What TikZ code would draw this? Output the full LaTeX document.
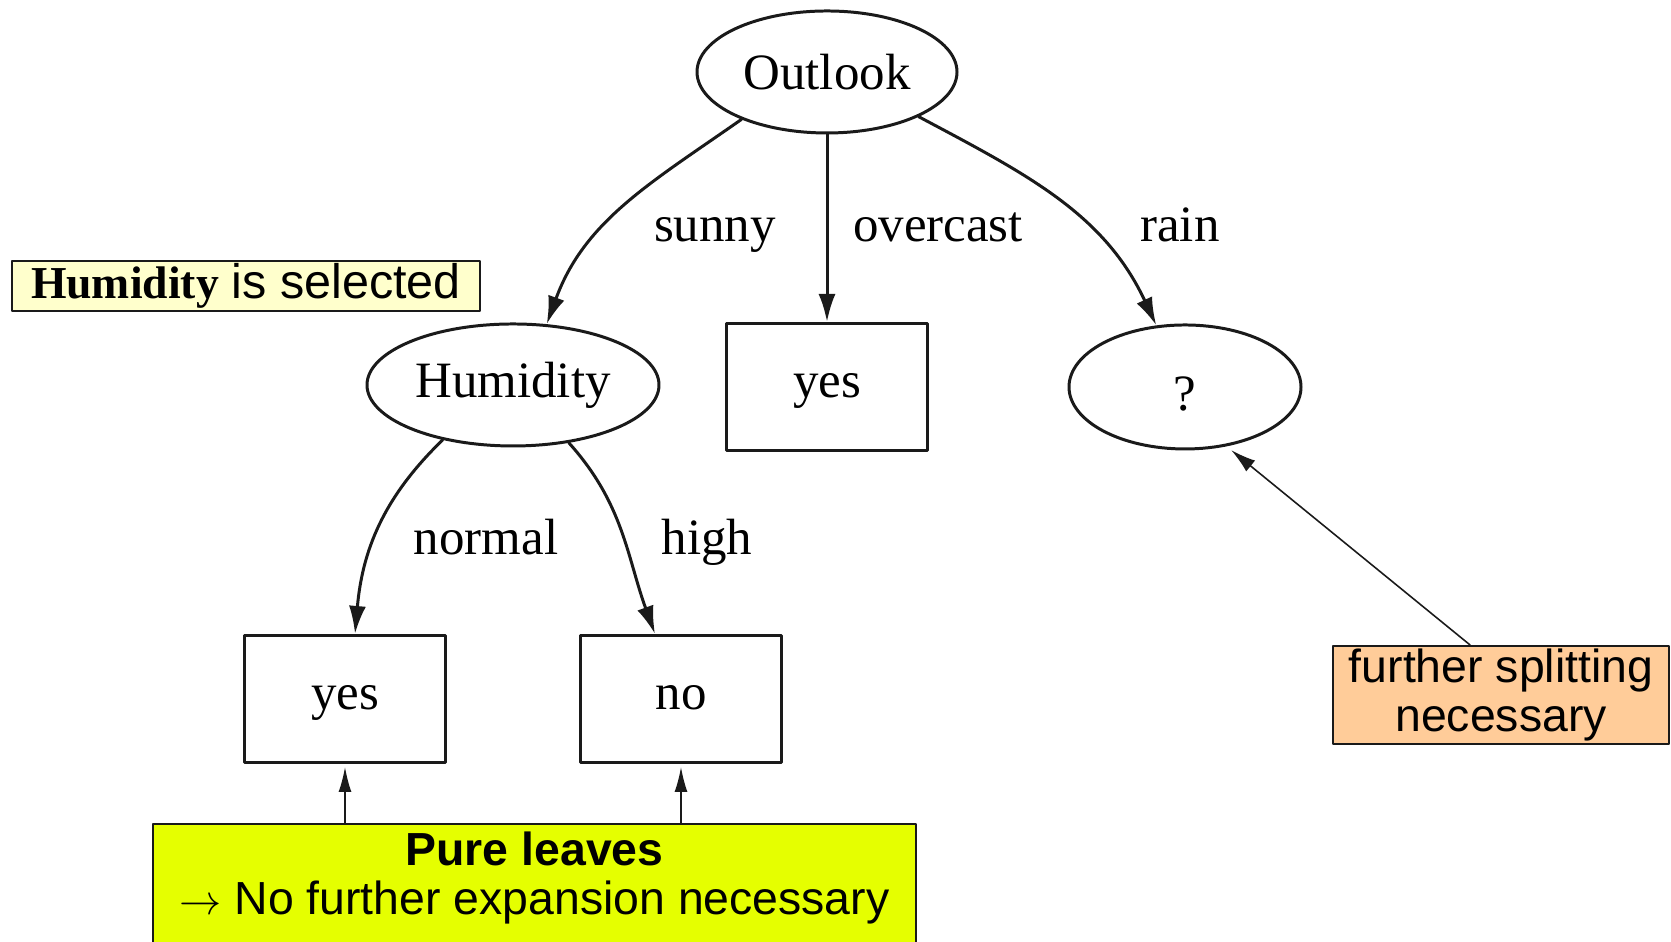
\documentclass[tikz,border=0pt]{standalone}
\usepackage{fontspec}
\setmainfont{Liberation Serif}
\setsansfont{Liberation Sans}
\usetikzlibrary{arrows.meta, shapes.geometric, positioning}
\definecolor{ink}{HTML}{1A1A1A}
\definecolor{selfill}{HTML}{FFFFCC}
\definecolor{purefill}{HTML}{E5FF00}
\definecolor{splitfill}{HTML}{FFCC99}
\tikzset{el/.style={line cap=round, line join=round}}

\begin{document}
\begin{tikzpicture}[el,
    tree/.style={draw=ink, line width=0.85pt, font=\fontsize{14.5}{16}\selectfont, inner sep=0pt},
    attr/.style={tree, ellipse, minimum height=1.22cm},
    leaf/.style={tree, rectangle, minimum width=2.01cm, minimum height=1.27cm, text height=3.3mm, text depth=1.1mm},
    lbl/.style={font=\fontsize{14.5}{16}\selectfont, inner sep=0pt, anchor=base},
    note/.style={draw=ink, line width=0.6pt, font=\sffamily\fontsize{13.2}{13.9}\selectfont, align=center, inner sep=0pt},
    ar/.style={-{Latex[length=2.8mm,width=1.7mm]}, ink, line width=0.85pt},
    up/.style={-{Latex[length=2.5mm,width=1.3mm]}, ink, line width=0.45pt, shorten >=0.3mm},
    ptr/.style={-{Latex[length=2.5mm,width=1.4mm]}, ink, line width=0.45pt, shorten >=0.6mm}]
  \useasboundingbox (0,0) rectangle (16.71,9.42);
  % the tree
  \node[attr, minimum width=2.60cm] (o) at (8.27,8.70) {Outlook};
  \node[attr, minimum width=2.92cm] (h) at (5.13,5.57) {Humidity};
  \node[leaf] (y0) at (8.27,5.55) {yes};
  \node[attr, minimum width=2.32cm, minimum height=1.24cm, text height=4.7mm, text depth=0pt] (q) at (11.85,5.55) {?};
  \node[leaf] (y1) at (3.45,2.43) {yes};
  \node[leaf] (n1) at (6.81,2.43) {no};
  \draw[ar] (o.209) to[out=215,in=70] (h.61);
  \draw[ar] (o) -- (y0);
  \draw[ar] (o.334) to[out=-28,in=115] (q.115);
  \draw[ar] (h.218) to[out=224,in=85] ([xshift=1mm]y1.north);
  \draw[ar] (h.-46) to[out=-48,in=110] ([xshift=-2.6mm]n1.north);
  \node[lbl] (sunny) at (7.15,7.00) {sunny};
  \node[lbl] (overcast) at (9.38,7.00) {overcast};
  \node[lbl] (rain) at (11.80,7.00) {rain};
  \node[lbl] (normal) at (4.86,3.87) {normal};
  \node[lbl] (high) at (7.07,3.87) {high};
  % notes
  \node[note, fill=selfill, minimum width=4.68cm, minimum height=0.50cm] (sel) at (2.46,6.56)
    {{\rmfamily\bfseries\fontsize{13}{14}\selectfont Humidity} {\fontsize{13.8}{14}\selectfont is selected}};
  \node[note, fill=splitfill, minimum width=3.36cm, minimum height=0.98cm] (split) at (15.01,2.47)
    {further splitting\\necessary};
  \node[note, fill=purefill, minimum width=7.63cm, minimum height=1.6cm, anchor=north] (pure) at (5.345,1.19) {};
  \node[note, draw=none, below=0.8mm of pure.north] (puretxt)
    {\textbf{Pure leaves}\\$\rightarrow$ No further expansion necessary};
  \draw[up] (pure.north -| y1.south) -- (y1.south);
  \draw[up] (pure.north -| n1.south) -- (n1.south);
  \draw[ptr] ([xshift=-3.1mm]split.north) -- (q.-55);
\end{tikzpicture}
\end{document}
